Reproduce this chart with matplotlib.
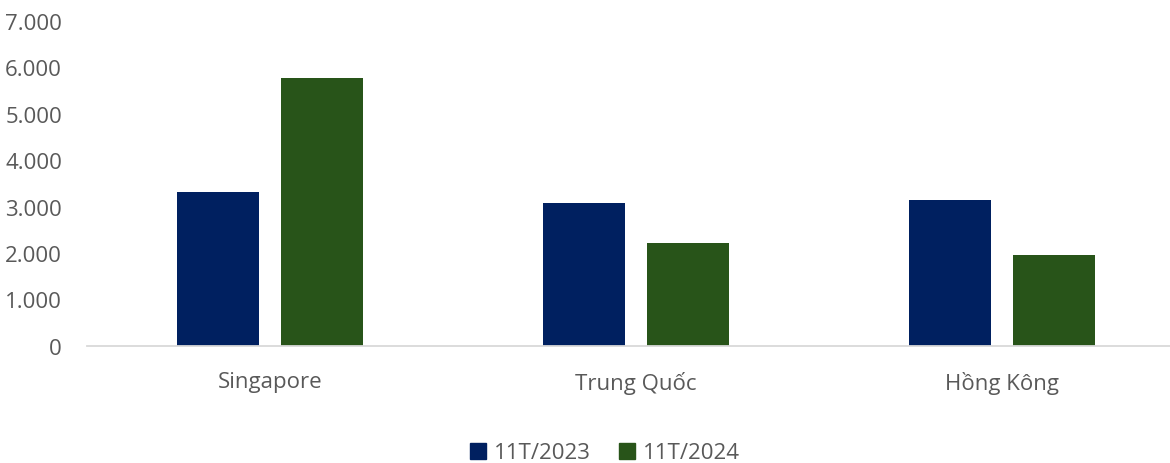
import matplotlib
matplotlib.use("Agg")
import matplotlib.pyplot as plt
import numpy as np
from matplotlib.ticker import FuncFormatter
from matplotlib.patches import Patch

categories = ["Singapore", "Trung Quốc", "Hồng Kông"]
series_names = ["11T/2023", "11T/2024"]
values_2023 = [3310, 3070, 3150]
values_2024 = [5780, 2210, 1955]
yticks = [0, 1000, 2000, 3000, 4000, 5000, 6000, 7000]

colors = ["#002060", "#285419"]
text_color = "#595959"
plt.rcParams['font.family'] = ['Open Sans', 'DejaVu Sans']

W, H = 1170, 464
fig = plt.figure(figsize=(W / 100, H / 100), dpi=100)
left = 87 / W
width = 3 * 366 / W
bottom = (H - 346.7) / H
height = (346.7 - 22) / H
ax = fig.add_axes([left, bottom, width, height])

x = np.arange(len(categories))
bw = 0.224
off = 0.142
ax.bar(x - off, values_2023, bw, color=colors[0], label=series_names[0])
ax.bar(x + off, values_2024, bw, color=colors[1], label=series_names[1])

ax.set_xlim(-0.5, 2.5)
ax.set_ylim(0, 7000)
ax.set_yticks(yticks)
ax.yaxis.set_major_formatter(FuncFormatter(lambda v, p: f"{int(v):,}".replace(",", ".")))
ax.set_xticks(x)
ax.set_xticklabels(categories)

for s in ["top", "right", "left"]:
    ax.spines[s].set_visible(False)
ax.spines["bottom"].set_color("#d9d9d9")
ax.spines["bottom"].set_linewidth(1.3)
ax.tick_params(axis="both", length=0, labelsize=16, colors=text_color)
ax.tick_params(axis="y", pad=18)
ax.tick_params(axis="x", pad=18)

handles = [Patch(color=colors[0], label=series_names[0]),
           Patch(color=colors[1], label=series_names[1])]
fig.legend(handles=handles, loc="center", bbox_to_anchor=(605 / W, 1 - 454 / H),
           ncol=2, frameon=False, fontsize=16, labelcolor=text_color,
           handlelength=0.7, handleheight=0.7, handletextpad=0.35, columnspacing=1.3)

fig.savefig("out.png", dpi=100)
